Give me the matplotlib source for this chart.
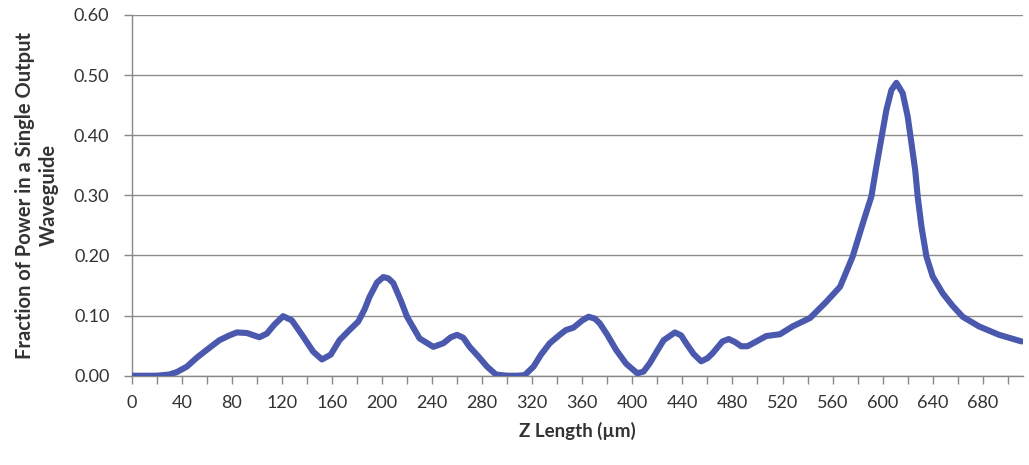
import matplotlib
matplotlib.use("Agg")
import matplotlib.pyplot as plt
from matplotlib.ticker import MultipleLocator, FuncFormatter

# Z position (µm) and fraction of power in a single output waveguide
z_um = [0, 10, 20, 30, 36, 44, 52, 60, 70, 78, 84, 92, 102, 108, 114, 121, 128,
        137, 145, 152, 159, 166, 174, 181, 186, 190, 196, 201, 205, 209, 215,
        220, 230, 241, 249, 255, 260, 265, 270, 277, 284, 291, 300, 308, 314,
        321, 327, 334, 342, 347, 353, 360, 365, 370, 374, 380, 387, 395, 404,
        409, 414, 420, 425, 434, 439, 443, 449, 455, 460, 464, 472, 477, 482,
        487, 492, 500, 507, 518, 528, 542, 555, 566, 576, 585, 591, 595, 599,
        603, 607, 611, 616, 620, 623, 626, 628, 631, 635, 640, 648, 656, 664,
        677, 693, 711]
power = [0.000, 0.000, 0.000, 0.002, 0.006, 0.015, 0.030, 0.043, 0.059, 0.067,
         0.072, 0.071, 0.064, 0.070, 0.085, 0.099, 0.092, 0.065, 0.040, 0.027,
         0.035, 0.059, 0.076, 0.090, 0.110, 0.131, 0.155, 0.164, 0.162, 0.154,
         0.125, 0.098, 0.062, 0.048, 0.054, 0.064, 0.068, 0.063, 0.048, 0.032,
         0.015, 0.002, 0.000, 0.000, 0.001, 0.015, 0.035, 0.054, 0.068, 0.076,
         0.080, 0.092, 0.098, 0.095, 0.087, 0.068, 0.043, 0.020, 0.004, 0.007,
         0.021, 0.042, 0.059, 0.072, 0.067, 0.054, 0.036, 0.024, 0.029, 0.037,
         0.057, 0.061, 0.056, 0.049, 0.049, 0.058, 0.066, 0.069, 0.082, 0.096,
         0.123, 0.148, 0.198, 0.259, 0.298, 0.348, 0.395, 0.442, 0.475, 0.487,
         0.470, 0.431, 0.387, 0.342, 0.298, 0.248, 0.198, 0.165, 0.137, 0.116,
         0.098, 0.082, 0.068, 0.057]

y_ticks = [0.0, 0.1, 0.2, 0.3, 0.4, 0.5, 0.6]
x_label_step = 40

font = "Lato"
tick_color = "#333333"
axis_color = "#888888"

fig = plt.figure(figsize=(10.29, 4.65), dpi=100)
ax = fig.add_axes([0.128, 0.192, 0.866, 0.776])

ax.plot(z_um, power, color="#4A59AD", linewidth=4.4, solid_capstyle="round",
        solid_joinstyle="round", zorder=3)

ax.set_xlim(0, 712)
ax.set_ylim(0, 0.6)

ax.set_yticks(y_ticks)
ax.yaxis.set_major_formatter(FuncFormatter(lambda v, p: f"{v:.2f}"))
ax.xaxis.set_major_locator(MultipleLocator(20))
ax.xaxis.set_major_formatter(FuncFormatter(
    lambda v, p: f"{int(round(v))}" if int(round(v)) % x_label_step == 0 and v <= 700 else ""))

ax.grid(axis="y", color="#8c8c8c", linewidth=1.0)
ax.set_axisbelow(True)

for side in ("top", "right"):
    ax.spines[side].set_visible(False)
for side in ("left", "bottom"):
    ax.spines[side].set_color(axis_color)
    ax.spines[side].set_linewidth(1.0)

ax.tick_params(axis="both", direction="out", length=6, width=1.0,
               color=axis_color, labelcolor=tick_color, labelsize=13)
ax.tick_params(axis="x", pad=8)
ax.tick_params(axis="y", pad=10)
for lbl in ax.get_xticklabels() + ax.get_yticklabels():
    lbl.set_fontfamily(font)

ax.set_xlabel("Z Length (µm)", fontsize=13.5, fontweight="bold", fontfamily=font,
              color="#333333", labelpad=8)
ax.set_ylabel("Fraction of Power in a Single Output\nWaveguide", fontsize=14.5,
              fontweight="bold", fontfamily=font, color="#333333", labelpad=11,
              linespacing=1.25)

fig.savefig("out.png", dpi=100, facecolor="white")
